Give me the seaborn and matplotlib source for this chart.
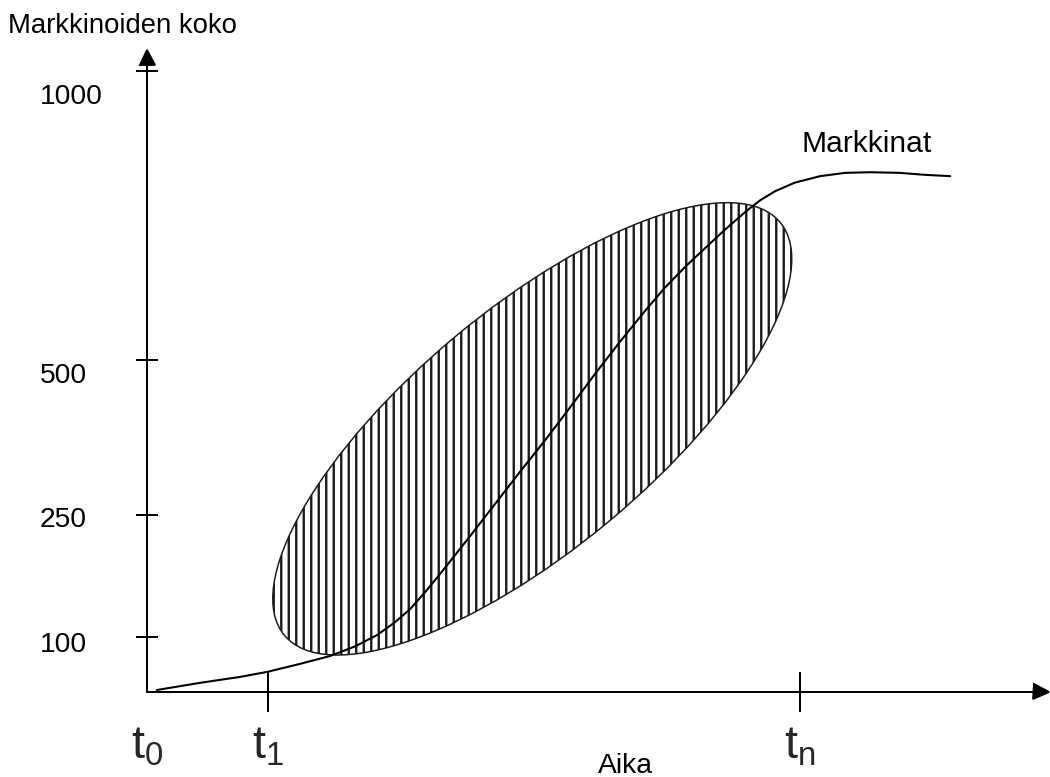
# Markkinoiden koko ajan funktiona: S-käyrä ja viivoitettu ellipsi

import matplotlib
matplotlib.use("Agg")
import matplotlib.pyplot as plt
from matplotlib.patches import Ellipse
import seaborn as sns
import pandas as pd

# aika-akselin paikat (tn = 10)
t_pos = [0.0, 1.85, 10.0]
t_labels = [r"$\mathrm{t_0}$", r"$\mathrm{t_1}$", r"$\mathrm{t_n}$"]

# y-akselin jaotus (ei lineaarinen)
y_pos = [0.84, 2.71, 5.08, 9.51]
y_labels = ["100", "250", "500", "1000"]

# Markkinat-käyrä, luettu kuvasta
curve_x = [0.15, 0.81, 1.42, 1.85, 2.34, 2.80, 3.19, 3.52, 3.80, 4.03, 4.26, 4.49,
           4.72, 4.95, 5.33, 5.71, 6.10, 6.48, 6.86, 7.24, 7.63, 7.93, 8.24, 8.55,
           8.85, 9.16, 9.39, 9.62, 9.92, 10.31, 10.69, 11.07, 11.53, 11.91, 12.30]
curve_y = [0.03, 0.14, 0.23, 0.31, 0.43, 0.55, 0.70, 0.87, 1.07, 1.27, 1.53, 1.81,
           2.10, 2.39, 2.88, 3.37, 3.86, 4.36, 4.87, 5.36, 5.84, 6.19, 6.51, 6.80,
           7.08, 7.35, 7.53, 7.67, 7.80, 7.90, 7.95, 7.96, 7.95, 7.92, 7.90]

# ellipsi: keskipiste, akselit, kulma
ell_center = (5.90, 4.03)
ell_width = 9.88
ell_height = 3.68
ell_angle = 39.8

df = pd.DataFrame({"aika": curve_x, "koko": curve_y})

sns.set_theme(style="white")
plt.rcParams["font.family"] = ["Liberation Sans", "DejaVu Sans"]
plt.rcParams["mathtext.fontset"] = "custom"
plt.rcParams["mathtext.rm"] = "Liberation Sans"
plt.rcParams["hatch.linewidth"] = 1.25
plt.rcParams["hatch.color"] = "#1a1a1a"

fig = plt.figure(figsize=(1050 / 135, 777 / 135), dpi=135)
ax = fig.add_axes([0.14, 0.1094, 0.8514, 0.8172])

ell = Ellipse(ell_center, ell_width, ell_height, angle=ell_angle,
              facecolor="none", edgecolor="#1a1a1a", hatch="|||", lw=0.8, zorder=1)
ax.add_patch(ell)

sns.lineplot(data=df, x="aika", y="koko", sort=False, estimator=None,
             color="black", lw=1.1, ax=ax, zorder=3)

ax.set_xlim(0, 13.69)
ax.set_ylim(0, 9.724)

for side in ["top", "right"]:
    ax.spines[side].set_visible(False)
for side in ["left", "bottom"]:
    ax.spines[side].set_color("black")
    ax.spines[side].set_linewidth(1.07)

# nuolenpäät
ax.plot(1, 0, ">", color="black", ms=8, transform=ax.get_yaxis_transform(), clip_on=False)
ax.plot(0, 1, "^", color="black", ms=8, transform=ax.get_xaxis_transform(), clip_on=False)

ax.set_xticks(t_pos, t_labels)
ax.tick_params(axis="x", direction="inout", length=21, width=1.07, color="black",
               pad=7, labelsize=25, bottom=True)
ax.xaxis.get_major_ticks()[0].tick1line.set_visible(False)

ax.set_yticks(y_pos, [""] * len(y_pos))
ax.tick_params(axis="y", direction="inout", length=11.5, width=1.07, color="black", left=True)

# y-arvot tikkien alle vasemmalle
y_offsets = [-8, -5, -16, -26]
for lab, pos, dy in zip(y_labels, y_pos, y_offsets):
    ax.annotate(lab, xy=(0, pos), xycoords=ax.get_yaxis_transform(),
                xytext=(-107, dy), textcoords="offset pixels",
                ha="left", va="center", fontsize=15.1, color="black")

ax.text(10.03, 8.27, "Markkinat", fontsize=16, ha="left", va="baseline", color="black")

ax.set_xlabel("Aika", fontsize=15.1, color="black")
ax.xaxis.label.set_va("baseline")
ax.xaxis.set_label_coords(0.535, -0.1276)

ax.set_ylabel("Markkinoiden koko", fontsize=14.7, rotation=0, color="black")
ax.yaxis.label.set_ha("left")
ax.yaxis.label.set_va("baseline")
ax.yaxis.set_label_coords(-0.1555, 1.0378)

fig.savefig("out.png", dpi=135)
